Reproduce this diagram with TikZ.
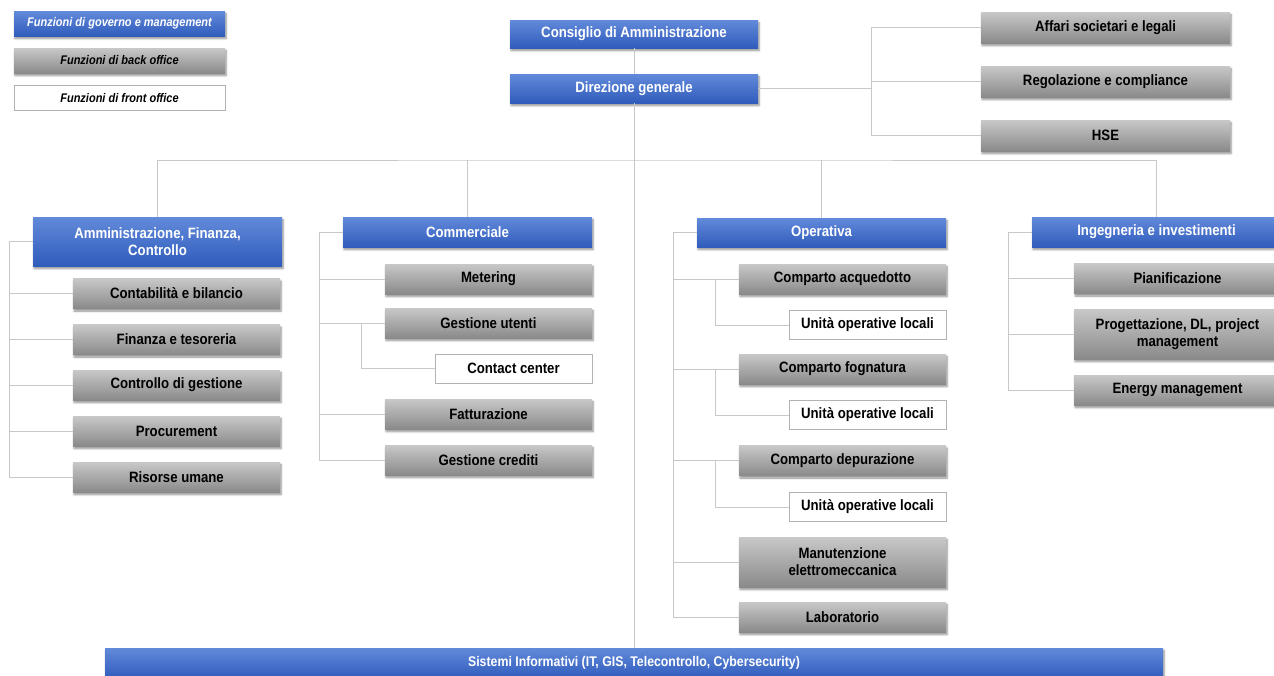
\documentclass[tikz,border=0pt]{standalone}
\usepackage{fontspec}
\setmainfont[FakeStretch=0.88]{Liberation Sans}
\usepackage{tikz}
\usetikzlibrary{shadows.blur}

\definecolor{bluetop}{RGB}{98,138,218}
\definecolor{bluebot}{RGB}{48,92,188}
\definecolor{greytop}{RGB}{200,200,200}
\definecolor{greybot}{RGB}{138,138,138}
\definecolor{wirecol}{RGB}{200,200,200}

\begin{document}
\begin{tikzpicture}[x=1pt, y=-1pt, font=\bfseries\fontsize{15}{17}\selectfont,
	box/.style={rectangle, inner sep=0pt, align=center, minimum height=30pt,
		blur shadow={shadow xshift=1pt, shadow yshift=-2.5pt, shadow opacity=45, shadow blur steps=6, shadow blur radius=2pt}},
	gov/.style={box, top color=bluetop, bottom color=bluebot, text=white},
	back/.style={box, top color=greytop, bottom color=greybot},
	front/.style={rectangle, inner sep=0pt, draw=gray!60, fill=white, minimum height=29pt},
	wide/.style={minimum width=249pt},
	sub/.style={minimum width=207pt},
	unit/.style={minimum width=157pt},
	legend/.style={minimum width=211pt, minimum height=25pt, font=\bfseries\itshape\fontsize{12.5}{14}\selectfont},
	wire/.style={draw=wirecol, line width=0.8pt}]
	\useasboundingbox (0,0) rectangle (1274,675);
	\clip (0,0) rectangle (1274,675);

		% legenda
		\node[gov, legend] (l1) at (119.5, 23.5) {Funzioni di governo e management};
		\node[back, legend] (l2) at (119.5, 60.5) {Funzioni di back office};
		\node[front, legend] (l3) at (119.5, 98) {Funzioni di front office};

		% vertice
		\node[gov, minimum width=248pt, minimum height=28pt] (cda) at (634, 34) {Consiglio di Amministrazione};
		\node[gov, minimum width=248pt, minimum height=29pt] (dg) at (634, 88.5) {Direzione generale};
		\node[back, wide, minimum height=31pt] (asl) at (1105.5, 27.5) {Affari societari e legali};
		\node[back, wide, minimum height=31pt] (reg) at (1105.5, 81.5) {Regolazione e compliance};
		\node[back, wide, minimum height=31pt] (hse) at (1105.5, 135.5) {HSE};
		\node[gov, minimum width=1058pt, font=\bfseries\fontsize{14}{16}\selectfont] (si) at (634, 663) {Sistemi Informativi (IT, GIS, Telecontrollo, Cybersecurity)};

		% amministrazione
		\node[gov, wide, minimum height=49pt] (afc) at (157.5, 241.5) {Amministrazione, Finanza,\\Controllo};
		\node[back, sub] (a1) at (176.5, 293.5) {Contabilità e bilancio};
		\node[back, sub] (a2) at (176.5, 339.5) {Finanza e tesoreria};
		\node[back, sub] (a3) at (176.5, 385) {Controllo di gestione};
		\node[back, sub] (a4) at (176.5, 431) {Procurement};
		\node[back, sub] (a5) at (176.5, 477) {Risorse umane};

		% commerciale
		\node[gov, wide] (com) at (467.5, 232) {Commerciale};
		\node[back, sub] (m1) at (488.5, 279) {Metering};
		\node[back, sub] (m2) at (488.5, 323) {Gestione utenti};
		\node[front, unit] (m3) at (513.5, 368.5) {Contact center};
		\node[back, sub] (m4) at (488.5, 414) {Fatturazione};
		\node[back, sub] (m5) at (488.5, 460) {Gestione crediti};

		% operativa
		\node[gov, wide, minimum height=29pt] (op) at (821.5, 232.5) {Operativa};
		\node[back, sub] (o1) at (842.5, 279) {Comparto acquedotto};
		\node[front, unit] (u1) at (867.5, 325) {Unità operative locali};
		\node[back, sub] (o2) at (842.5, 369) {Comparto fognatura};
		\node[front, unit] (u2) at (867.5, 415) {Unità operative locali};
		\node[back, sub] (o3) at (842.5, 460.5) {Comparto depurazione};
		\node[front, unit] (u3) at (867.5, 507) {Unità operative locali};
		\node[back, sub, minimum height=50pt] (o4) at (842.5, 562) {Manutenzione\\elettromeccanica};
		\node[back, sub] (o5) at (842.5, 617) {Laboratorio};

		% ingegneria
		\node[gov, wide] (ing) at (1156.5, 232) {Ingegneria e investimenti};
		\node[back, sub] (i1) at (1177.5, 278.5) {Pianificazione};
		\node[back, sub, minimum height=50pt] (i2) at (1177.5, 334) {Progettazione, DL, project\\management};
		\node[back, sub] (i3) at (1177.5, 390) {Energy management};

		% collegamenti
		\coordinate (rt) at (871, 88.5);
		\coordinate (bus) at (634, 160);
		\draw[wire] (cda) -- (dg);
		\draw[wire] (dg) -- (si);
		\draw[wire] (dg.east) -- (rt);
		\draw[wire] (asl.west) -| (rt) |- (hse.west);
		\draw[wire] (reg.west) -- (reg.west -| rt);
		\draw[wire] (afc.north) |- (bus) -| (ing.north);
		\draw[wire] (com.north) -- (com.north |- bus);
		\draw[wire] (op.north) -- (op.north |- bus);
		\foreach \p/\c in {afc/a1, afc/a2, afc/a3, afc/a4, afc/a5,
				com/m1, com/m2, com/m4, com/m5, m2/m3,
				op/o1, op/o2, op/o3, op/o4, op/o5, o1/u1, o2/u2, o3/u3,
				ing/i1, ing/i2, ing/i3}
			\draw[wire] (\p.west) -- ++(-23, 0) |- (\c.west);
	\end{tikzpicture}
\end{document}
